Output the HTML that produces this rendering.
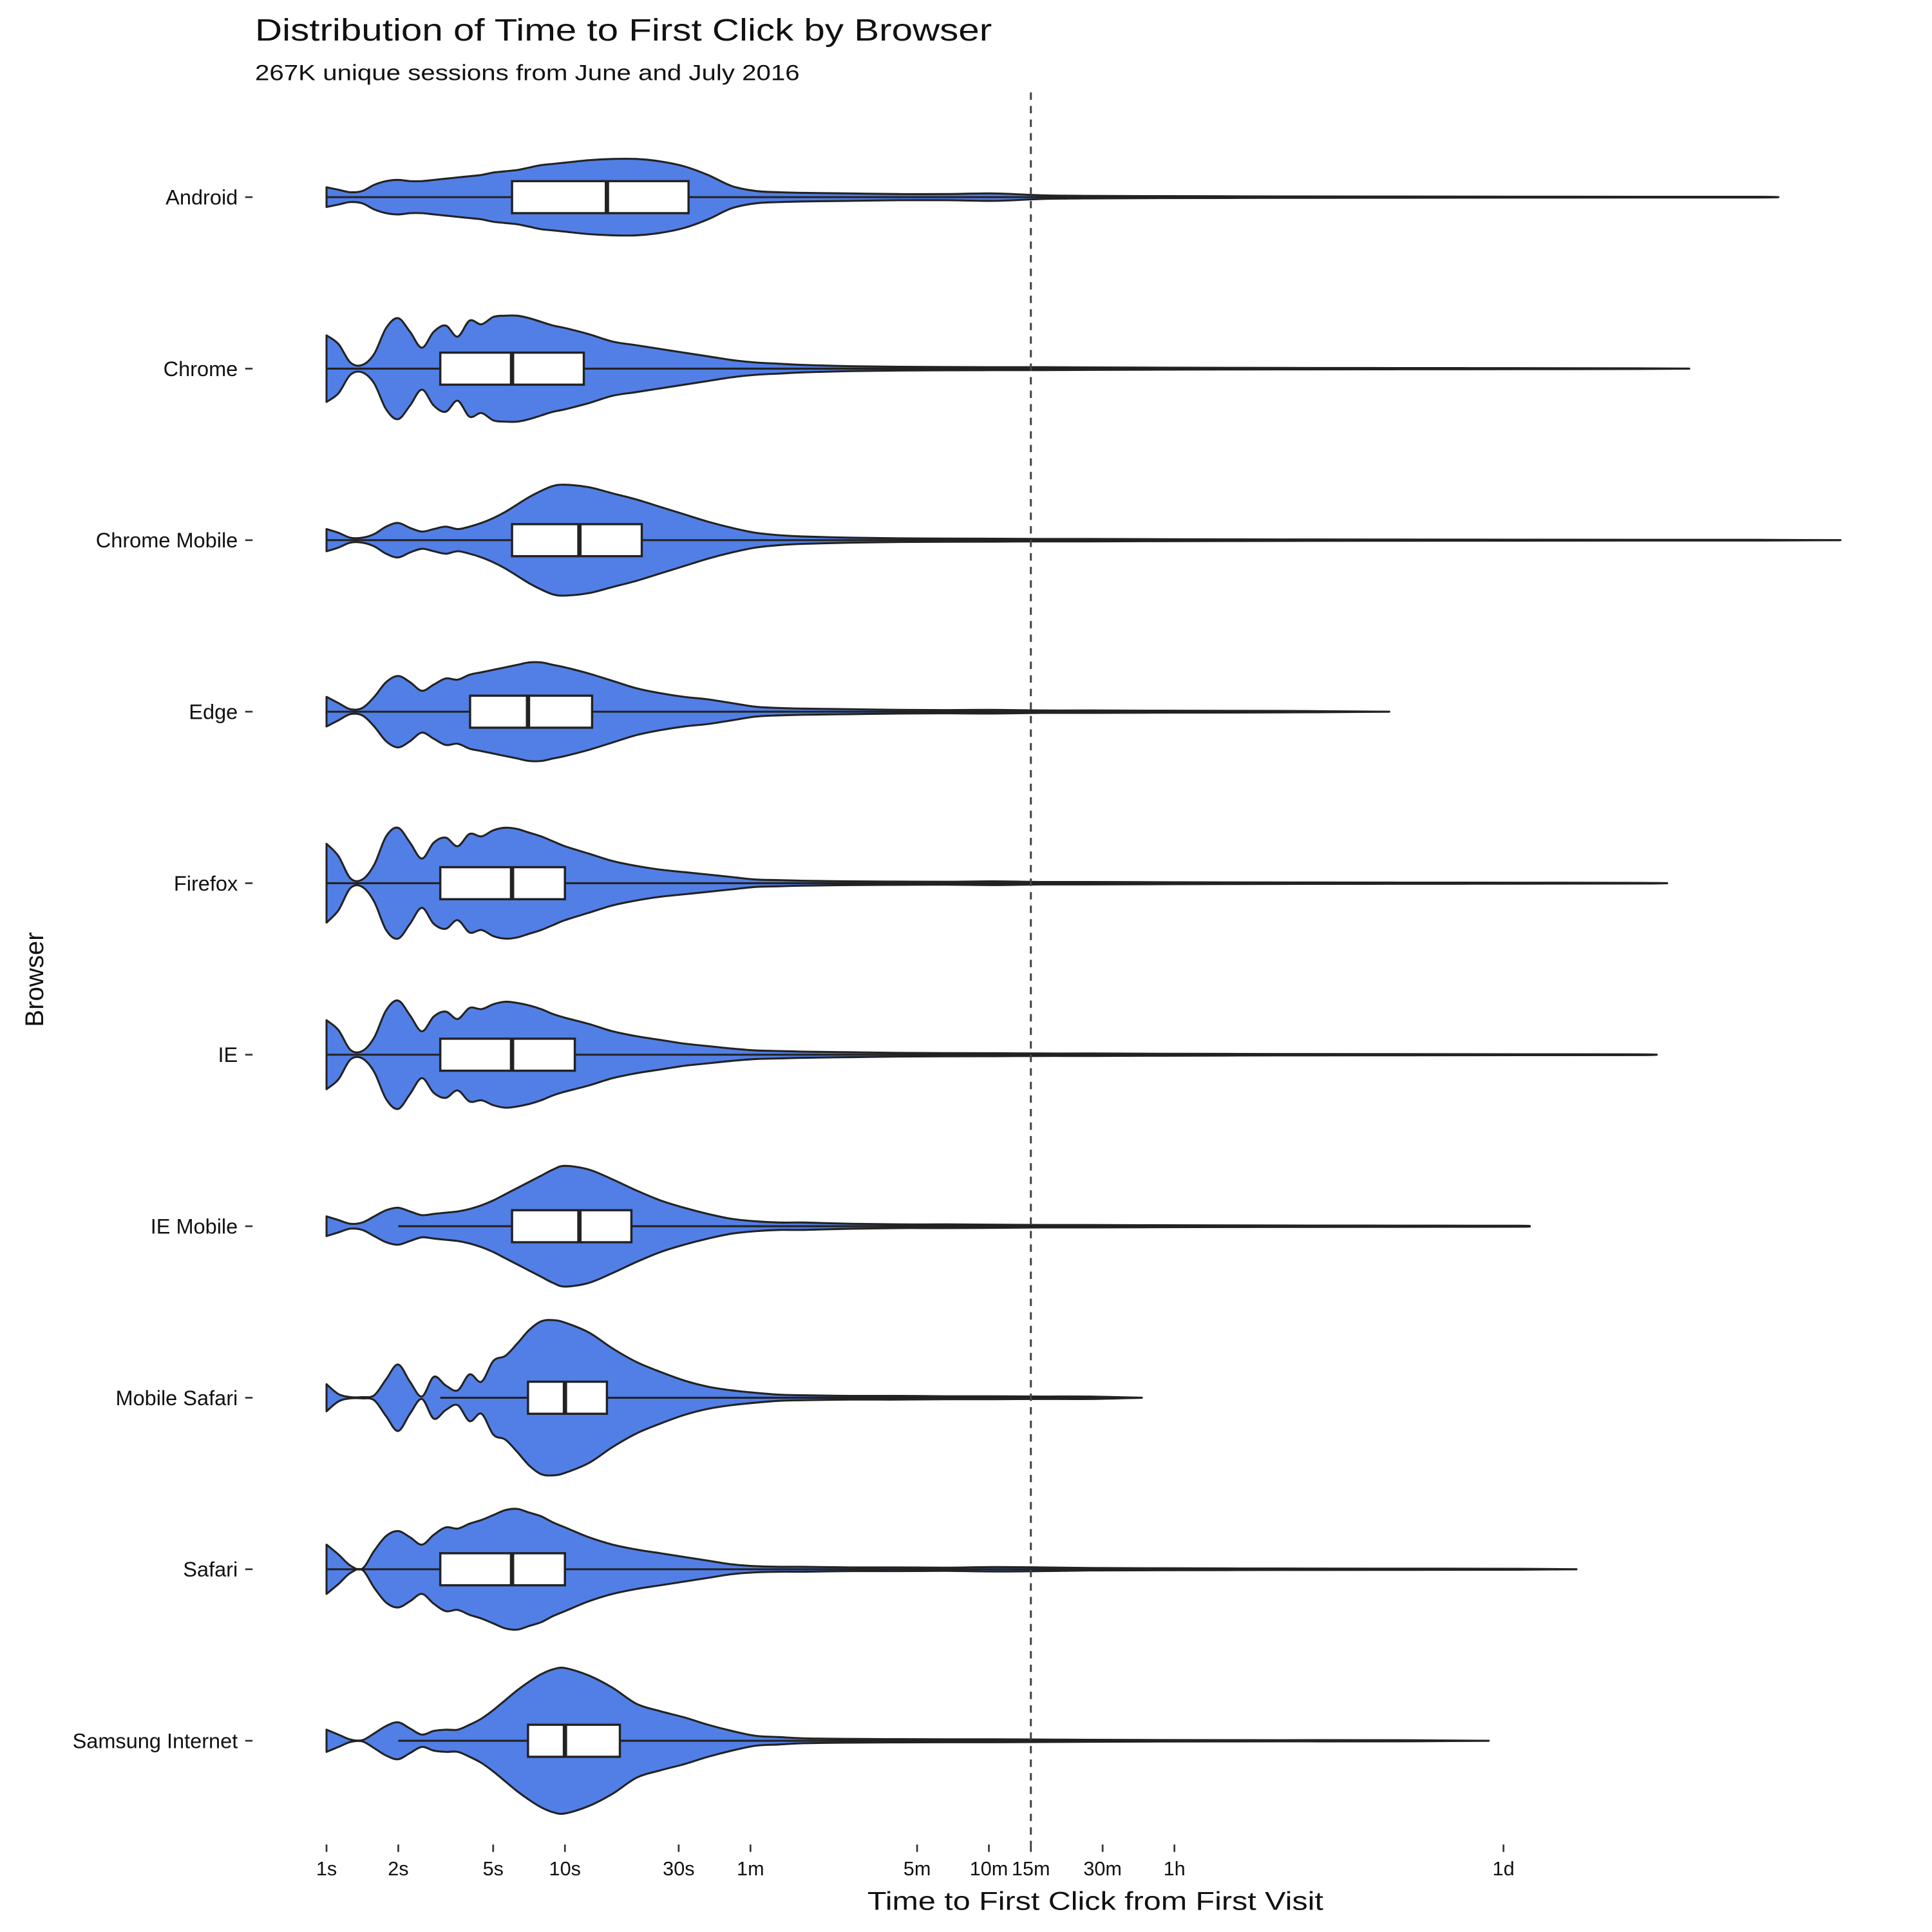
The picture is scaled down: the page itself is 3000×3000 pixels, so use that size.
<!DOCTYPE html>
<html><head><meta charset="utf-8"><style>
html,body{margin:0;padding:0;background:#fff}
svg{display:block}
text{font-family:"Liberation Sans",sans-serif;fill:#111}
</style></head><body>
<svg id="chart" width="3000" height="3000" viewBox="0 0 1568 1568" xmlns="http://www.w3.org/2000/svg">
<text x="207" y="33" font-size="25" textLength="598" lengthAdjust="spacingAndGlyphs">Distribution of Time to First Click by Browser</text>
<text x="207" y="65" font-size="18" textLength="442" lengthAdjust="spacingAndGlyphs">267K unique sessions from June and July 2016</text>
<text transform="translate(35,795) rotate(-90)" text-anchor="middle" font-size="21">Browser</text>
<text x="889" y="1550" text-anchor="middle" font-size="21" textLength="370" lengthAdjust="spacingAndGlyphs">Time to First Click from First Visit</text>
<g id="plot"></g>
</svg>
<script>
const browsers = ["Android","Chrome","Chrome Mobile","Edge","Firefox","IE","IE Mobile","Mobile Safari","Safari","Samsung Internet"];
const grid = [0,0.05,0.1,0.15,0.2,0.25,0.3,0.35,0.4,0.45,0.5,0.55,0.6,0.65,0.7,0.75,0.8,0.85,0.9,0.95,1.0,1.1,1.2,1.3,1.4,1.5,1.6,1.7,1.8,1.9,2.0,2.2,2.4,2.6,2.8,3.0,3.2,3.5,4.0,4.5,5.0,5.5,6.0,6.5];
const densAndroid = [8,6,4,5,10,13,14,13,13,14,15,16,17,18,20,21,22,24,26,27,28,30,31,31,29,25,18,9,5,4,3.5,3,2.5,2.5,3,1.5,1,0.8,0.6,0.5,0.4,0.3,0.3,0.3];
const densChrome = [27,20,5,3,12,33,41,30,17,30,35,26,39,36,42,43,43,41,38,35,33,28,22,19,16,13,10,7,5,4,3,2,1.5,1.3,1.2,1.2,1,0.8,0.6,0.5,0.4,0.3,0.3,0.3];
const densChromeMobile = [9,6,2,2,5,11,14,10,7,9,11,9,11,14,18,23,29,35,40,44,45,43,38,33,27,21,15,10,6,4,3,2,1.5,1.3,1.2,1,1,0.8,0.6,0.5,0.4,0.3,0.3,0.3];
const densEdge = [12,7,2,3,12,24,29,24,17,22,27,26,30,32,34,36,38,40,40,38,36,31,25,19,15,12,10,7,4,3,2.5,2,1.5,1.3,1.5,1,1,0.8,0.6,0.5,0.4,0.3,0.3,0.3];
const densFirefox = [32,22,4,3,15,38,45,33,20,33,37,30,40,38,43,45,44,41,38,34,30,24,18,14,11,9,7,5,3,2.5,2,1.5,1.3,1.2,1.5,1,1,0.8,0.6,0.5,0.4,0.3,0.3,0.3];
const densIE = [28,20,4,3,14,36,44,32,19,31,35,29,38,37,41,43,42,40,37,33,30,25,19,15,12,9,7,5,3.5,3,2.5,2,1.5,1.3,1.2,1,1,0.8,0.6,0.5,0.4,0.3,0.3,0.3];
const densIEMobile = [8,5,2,3,8,13,15,12,9,10,11,12,14,17,21,26,31,36,41,46,49,46,38,29,21,15,10,6,4,3,3,2,1.5,1.5,1.3,1,1,0.8,0.6,0.5,0.4,0.3,0.3,0.3];
const densMobileSafari = [11,3,0.5,0.5,2,15,27,13,1,17,10,6,19,13,30,34,44,55,62,63,61,53,40,29,21,14,9,6,4,2.5,2,1.5,1.5,1.2,1.2,1,1,0.8,0.5,0.5,0.4,0.3,0.3,0.3];
const densSafari = [20,12,3,0.5,15,27,31,26,20,28,34,33,37,40,44,48,49,46,43,38,34,26,20,16,13,10,7,4,2.5,2,2,1.5,1.5,1.3,1.8,1.5,1,0.8,0.6,0.5,0.4,0.3,0.3,0.3];
const densSamsung = [9,5,1,0.5,6,12,15,10,5,8,9,9,13,18,25,33,41,48,54,58,59,53,43,30,24,19,13,8,4,3,2,1.5,1.3,1.2,1.2,1,0.8,0.6,0.5,0.5,0.4,0.3,0.3,0.3];
const densities = [densAndroid,densChrome,densChromeMobile,densEdge,densFirefox,densIE,densIEMobile,densMobileSafari,densSafari,densSamsung];
const q1Sec = [6,3,6,4,3,3,6,7,3,7];
const medianSec = [15,6,11.5,7,6,6,11.5,10,6,10];
const q3Sec = [33,12,21,13,10,11,19,15,10,17];
const whiskerLoSec = [1,1,1,1,1,1,2,3,1,2];
const maxSec = [1230000,520000,2240000,28700,420000,380000,107000,2630,175000,75000];
const tickLabels = ["1s","2s","5s","10s","30s","1m","5m","10m","15m","30m","1h","1d"];
const tickSec = [1,2,5,10,30,60,300,600,900,1800,3600,86400];
const cutoffSec = 900;

const X0 = 265, DEC = 193.5, ROW0 = 160, ROWSTEP = 139.2, BOXH = 13;
const xS = s => X0 + DEC*Math.log10(s);
const xL = l => X0 + DEC*l;
const yRow = i => ROW0 + ROWSTEP*i;
const NS = "http://www.w3.org/2000/svg";
const plot = document.getElementById('plot');
function mk(tag, attrs){const e=document.createElementNS(NS,tag);for(const k in attrs)e.setAttribute(k,attrs[k]);return e;}

function smooth(pts){
  let d = `M${pts[0][0]},${pts[0][1]}`;
  for(let i=0;i<pts.length-1;i++){
    const p0=pts[Math.max(0,i-1)],p1=pts[i],p2=pts[i+1],p3=pts[Math.min(pts.length-1,i+2)];
    const c1=[p1[0]+(p2[0]-p0[0])/6,p1[1]+(p2[1]-p0[1])/6];
    const c2=[p2[0]-(p3[0]-p1[0])/6,p2[1]-(p3[1]-p1[1])/6];
    d+=` C${c1[0].toFixed(2)},${c1[1].toFixed(2)} ${c2[0].toFixed(2)},${c2[1].toFixed(2)} ${p2[0].toFixed(2)},${p2[1].toFixed(2)}`;
  }
  return d;
}

const dl = mk('line',{x1:xS(cutoffSec),x2:xS(cutoffSec),y1:75,y2:1497,stroke:'#444','stroke-width':1.6,'stroke-dasharray':'6,5'});



browsers.forEach((b,i)=>{
  const cy = yRow(i), dens = densities[i], maxL = Math.log10(maxSec[i]);
  const g = mk('g',{});
  
  
  const top=[];
  for(let k=0;k<grid.length;k++){
    if(grid[k]>=maxL) break;
    top.push([xL(grid[k]),cy-dens[k]]);
  }
  top.push([xL(maxL),cy]);
  const botPts = top.map(p=>[p[0],2*cy-p[1]]).reverse();
  let d = smooth(top);
  d += ' ' + smooth(botPts).replace(/^M/,'L') + ' Z';
  const v = mk('path',{d:d,fill:'#527fe6',stroke:'#222','stroke-width':1.6,'stroke-linejoin':'round'});
  
  
  g.appendChild(v);
  const wl = mk('line',{x1:xS(whiskerLoSec[i]),x2:xS(maxSec[i]),y1:cy,y2:cy,stroke:'#222','stroke-width':1.6});
  
  
  g.appendChild(wl);
  const bx = mk('rect',{x:xS(q1Sec[i]),y:cy-BOXH,width:xS(q3Sec[i])-xS(q1Sec[i]),height:2*BOXH,fill:'#fff',stroke:'#222','stroke-width':1.8});
  
  
  g.appendChild(bx);
  const md = mk('line',{x1:xS(medianSec[i]),x2:xS(medianSec[i]),y1:cy-BOXH,y2:cy+BOXH,stroke:'#222','stroke-width':3.5});
  
  
  g.appendChild(md);
  plot.appendChild(g);
  const lb = mk('text',{x:193,y:cy+6,'text-anchor':'end','font-size':17});
  lb.textContent = b;
  
  
  plot.appendChild(lb);
  const tk = mk('line',{x1:199,x2:205,y1:cy,y2:cy,stroke:'#333','stroke-width':1.4});
  
  
  plot.appendChild(tk);
});
plot.appendChild(dl);

tickSec.forEach((s,k)=>{
  const x = xS(s);
  const t = mk('line',{x1:x,x2:x,y1:1497,y2:1503,stroke:'#333','stroke-width':1.4});
  
  
  plot.appendChild(t);
  const lb = mk('text',{x:x,y:1522,'text-anchor':'middle','font-size':16});
  lb.textContent = tickLabels[k];
  
  
  plot.appendChild(lb);
});
</script>
</body></html>
